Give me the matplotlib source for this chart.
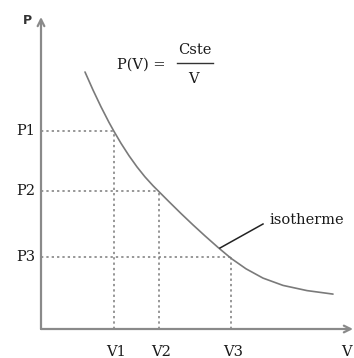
import matplotlib
matplotlib.use("Agg")
import matplotlib.pyplot as plt

# isotherm points (V, P), arbitrary units
curve_v = [44, 52, 60, 68, 73, 80, 88, 96, 104, 112, 118, 128, 140, 152,
           164, 177, 190, 205, 222, 242, 266, 292]
curve_p = [257, 239, 222.2, 206.6, 197.6, 185.7, 173.3, 162.1, 152.1, 143.3,
           137.3, 127.3, 115.5, 104.1, 93.1, 81.6, 70.7, 60.2, 50.9, 43.6,
           38.4, 34.9]

# marked states on the isotherm
state_v = [73, 118, 190]
state_p = [198, 138, 72]
v_labels = ["V1", "V2", "V3"]
p_labels = ["P1", "P2", "P3"]

AXIS_GREY = "#8a8a8a"
LINE_GREY = "#7a7a7a"
TXT = "#1a1a1a"
SERIF = "DejaVu Serif"
FS = 10.5

fig = plt.figure(figsize=(3.54, 3.58), dpi=100)
ax = fig.add_axes([0, 0, 1, 1])
ax.set_xlim(-41, 313)
ax.set_ylim(-29, 329)
ax.axis("off")

# axes with arrow heads
ax.annotate("", xy=(312, 0), xytext=(0, 0),
            arrowprops=dict(arrowstyle="->", color=AXIS_GREY, lw=1.6,
                            shrinkA=0, shrinkB=0, mutation_scale=12))
ax.annotate("", xy=(0, 312), xytext=(0, 0),
            arrowprops=dict(arrowstyle="->", color=AXIS_GREY, lw=1.6,
                            shrinkA=0, shrinkB=0, mutation_scale=12))

# isotherm curve
ax.plot(curve_v, curve_p, color=LINE_GREY, lw=1.2,
        solid_capstyle="round", solid_joinstyle="round")

# dotted guide lines and labels
for v, p, vl, pl in zip(state_v, state_p, v_labels, p_labels):
    ax.plot([0, v], [p, p], color=LINE_GREY, lw=1.1, ls=(0, (1.5, 2)))
    ax.plot([v, v], [0, p], color=LINE_GREY, lw=1.1, ls=(0, (1.5, 2)))
    ax.text(-6, p, pl, ha="right", va="center", fontsize=FS,
            family=SERIF, color=TXT)
    ax.text(v + 2, -23, vl, ha="center", va="center", fontsize=FS,
            family=SERIF, color=TXT)

ax.text(305, -23, "V", ha="center", va="center", fontsize=FS,
        family=SERIF, color=TXT)
ax.text(-14, 309, "P", ha="center", va="center", fontsize=9,
        family="DejaVu Sans", weight="bold", color="#333333")

# formula P(V) = Cste / V
ax.text(100, 264, "P(V) =", ha="center", va="center", fontsize=FS,
        family=SERIF, color=TXT)
ax.text(154, 279, "Cste", ha="center", va="center", fontsize=FS,
        family=SERIF, color=TXT)
ax.plot([136, 172], [266, 266], color="#333333", lw=1.0)
ax.text(152, 250, "V", ha="center", va="center", fontsize=FS,
        family=SERIF, color=TXT)

# isotherme label with pointer
ax.plot([179, 222], [81, 105], color="#222222", lw=1.1)
ax.text(229, 109, "isotherme", ha="left", va="center", fontsize=FS,
        family=SERIF, color=TXT)

fig.savefig("out.png", dpi=100)
